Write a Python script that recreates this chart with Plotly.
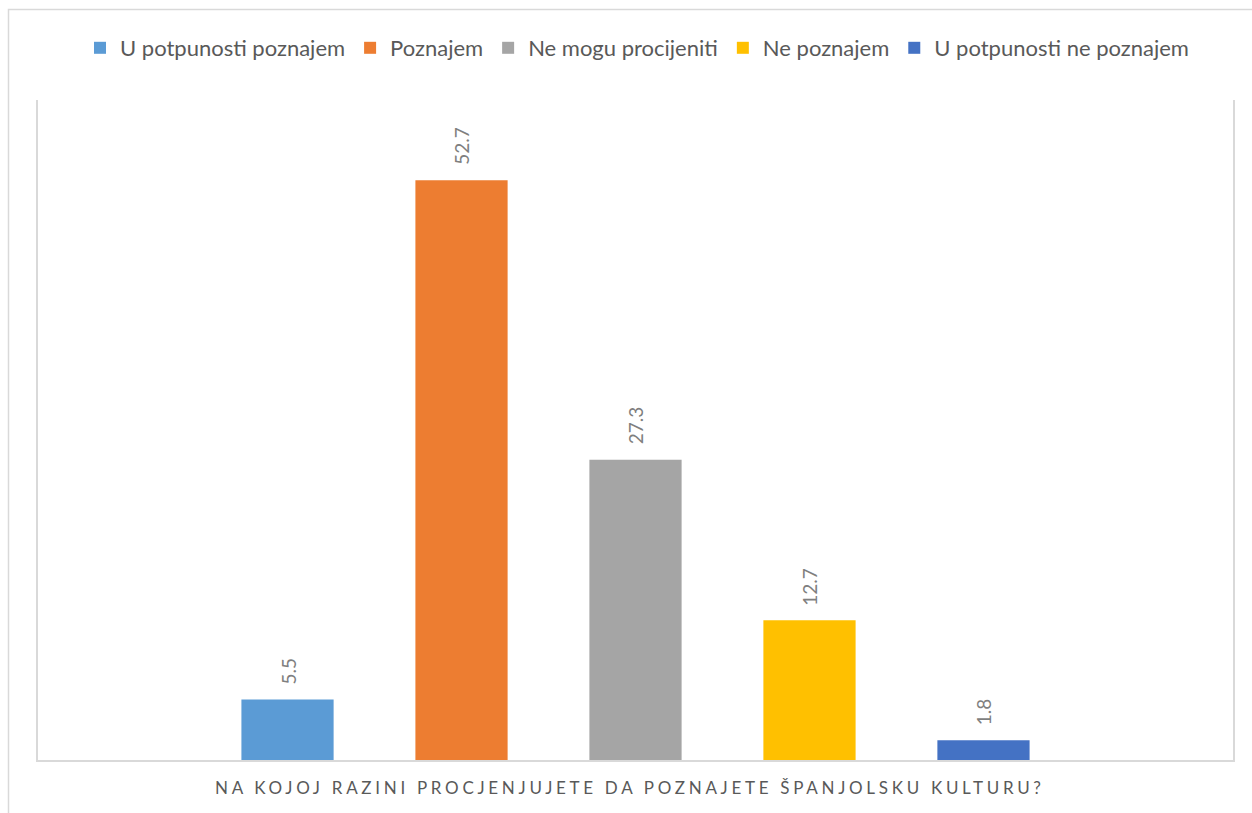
import plotly.graph_objects as go

category = ["NA KOJOJ RAZINI PROCJENJUJETE DA POZNAJETE ŠPANJOLSKU KULTURU?"]
series_names = ["U potpunosti poznajem", "Poznajem", "Ne mogu procijeniti",
                "Ne poznajem", "U potpunosti ne poznajem"]
series_values = [5.5, 52.7, 27.3, 12.7, 1.8]
series_colors = ["#5B9BD5", "#ED7D31", "#A5A5A5", "#FFC000", "#4472C4"]
axis_title = category[0]

W, H = 1252, 813
ML, MR, MT, MB = 38, 19, 100, 53
PW, PH = W - ML - MR, H - MT - MB
BARGAP = 0.272
BARGROUPGAP = 0.47
FONT = "Lato"

def px_x(p):
    return (p - ML) / PW

def px_y(p):
    return (H - MB - p) / PH

fig = go.Figure()
for name, val, col in zip(series_names, series_values, series_colors):
    fig.add_trace(go.Bar(name=name, x=[0], y=[val], marker_color=col,
                         marker_line_width=0))

n = len(series_values)
slot = (1 - BARGAP) / n
annotations = []
for i, val in enumerate(series_values):
    annotations.append(dict(
        x=(i - (n - 1) / 2) * slot, y=val, xref="x", yref="y",
        text=f"{val:.1f}", textangle=-90, showarrow=False,
        xanchor="center", yanchor="bottom", yshift=13,
        font=dict(family=FONT, size=19, color="#7F7F7F")))

spaced = '<span style="letter-spacing:3.7px">' + axis_title + '</span>'
annotations.append(dict(
    x=px_x(630), y=px_y(787), xref="paper", yref="paper",
    text=spaced, showarrow=False, xanchor="center", yanchor="middle",
    font=dict(family=FONT, size=17, color="#595959")))

fig.update_layout(
    width=W, height=H,
    margin=dict(l=ML, r=MR, t=MT, b=MB, pad=0),
    paper_bgcolor="white", plot_bgcolor="white",
    barmode="group", bargap=BARGAP, bargroupgap=BARGROUPGAP,
    font=dict(family=FONT, color="#595959"),
    showlegend=True,
    legend=dict(orientation="h", x=px_x(637), xanchor="center",
                y=px_y(48), yanchor="middle",
                font=dict(family=FONT, size=22, color="#595959"),
                itemsizing="constant", bgcolor="rgba(0,0,0,0)"),
    xaxis=dict(range=[-0.5, 0.5], showticklabels=False, showgrid=False,
               zeroline=False, showline=True, linecolor="#D9D9D9",
               linewidth=1.5, ticks=""),
    yaxis=dict(range=[0, 60], showticklabels=False, showgrid=False,
               zeroline=False, showline=True, mirror=True,
               linecolor="#D9D9D9", linewidth=1.5, ticks=""),
    annotations=annotations,
    shapes=[dict(type="rect", xref="paper", yref="paper",
                 x0=px_x(8.5), x1=px_x(W + 20), y0=px_y(H + 20), y1=px_y(9.5),
                 line=dict(color="#D9D9D9", width=1.5), layer="below")],
)

fig.write_html("out.html", config={"displayModeBar": False},
               post_script="document.body.style.margin='0';document.body.style.overflow='hidden';")
